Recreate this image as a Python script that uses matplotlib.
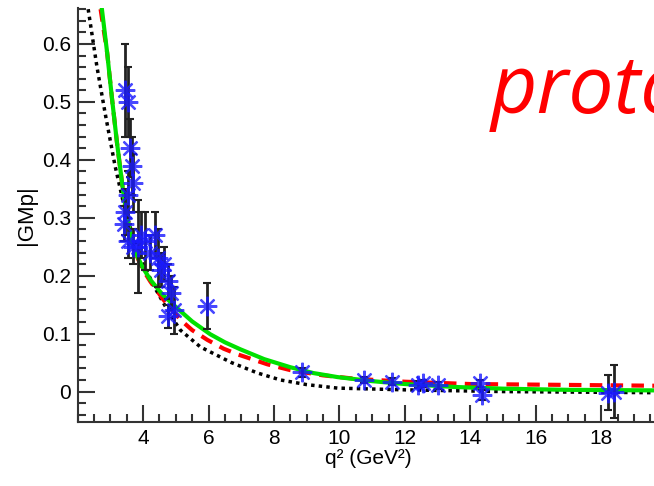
import matplotlib
matplotlib.use('Agg')
import matplotlib.pyplot as plt
from matplotlib.ticker import MultipleLocator

plt.rcParams['font.family'] = ['Liberation Sans', 'DejaVu Sans']

# Data points: q^2, |GMp|, error
q2_data = [3.45, 3.55, 3.60, 3.65, 3.70, 3.55, 3.45, 3.40, 3.55, 3.70, 3.85, 3.95,
           4.05, 4.20, 4.35, 4.45, 4.55, 4.65, 4.75, 4.85, 4.95, 4.75, 5.95,
           8.85, 10.75, 11.6, 12.4, 12.55, 13.0, 14.3, 14.35, 18.22, 18.38]
gm_data = [0.52, 0.50, 0.42, 0.39, 0.36, 0.34, 0.31, 0.29, 0.26, 0.25, 0.25, 0.27,
           0.26, 0.24, 0.27, 0.23, 0.21, 0.22, 0.19, 0.17, 0.14, 0.13, 0.148,
           0.033, 0.020, 0.017, 0.012, 0.014, 0.011, 0.014, -0.006, -0.002, 0.0]
gm_err = [0.08, 0.06, 0.05, 0.05, 0.05, 0.04, 0.04, 0.03, 0.03, 0.03, 0.08, 0.04,
          0.05, 0.03, 0.04, 0.05, 0.03, 0.03, 0.03, 0.03, 0.04, 0.02, 0.04,
          0.008, 0.006, 0.006, 0.006, 0.006, 0.006, 0.006, 0.008, 0.03, 0.046]

# Fit curves
q2_green = [2.74, 2.9, 3.05, 3.2, 3.39, 3.55, 3.69, 3.85, 4.0, 4.22, 4.6, 5.04, 5.5,
            6.05, 6.5, 6.97, 7.7, 8.5, 9.2, 9.94, 11.0, 12.0, 13.5, 15.0, 17.0, 19.8]
gm_green = [0.66, 0.585, 0.505, 0.43, 0.345, 0.29, 0.252, 0.23, 0.213, 0.193, 0.167,
            0.144, 0.121, 0.099, 0.085, 0.073, 0.056, 0.042, 0.032, 0.025, 0.018,
            0.013, 0.008, 0.005, 0.003, 0.002]

q2_red = [2.70, 2.9, 3.05, 3.2, 3.39, 3.55, 3.69, 3.85, 4.0, 4.22, 4.6, 5.14, 5.5,
          5.97, 6.46, 6.9, 7.8, 8.5, 9.5, 10.5, 12.0, 14.0, 16.0, 19.8]
gm_red = [0.66, 0.585, 0.505, 0.43, 0.345, 0.29, 0.252, 0.228, 0.21, 0.19, 0.16,
          0.124, 0.106, 0.089, 0.074, 0.064, 0.047, 0.037, 0.028, 0.022, 0.017,
          0.013, 0.012, 0.010]

q2_black = [2.32, 2.59, 2.84, 3.14, 3.4, 3.7, 4.0, 4.4, 4.8, 5.14, 5.75, 6.7, 7.5,
            8.2, 9.0, 9.94, 12.0, 15.0, 19.8]
gm_black = [0.66, 0.56, 0.48, 0.39, 0.325, 0.265, 0.22, 0.175, 0.135, 0.106, 0.077,
            0.05, 0.032, 0.02, 0.012, 0.006, 0.003, 0.0, -0.002]

fig = plt.figure(figsize=(6.54, 4.86), dpi=100)
ax = fig.add_axes([0.1188, 0.1323, 0.888, 0.8512])

ax.plot(q2_black, gm_black, color='black', linestyle=(0, (1, 1.2)), linewidth=2.5, zorder=2)
ax.plot(q2_red, gm_red, color='#ff0000', linestyle=(0, (3, 2)), linewidth=3, zorder=3)
ax.plot(q2_green, gm_green, color='#00e000', linewidth=3, zorder=4)

ax.errorbar(q2_data, gm_data, yerr=gm_err, fmt='none', ecolor='#222222',
            elinewidth=2, capsize=3, capthick=1.5, zorder=5)
ax.plot(q2_data, gm_data, linestyle='none', marker=(8, 2, 0), markersize=14,
        markeredgewidth=1.6, color='#1a1aff', alpha=0.8, zorder=6)

ax.set_xlim(2, 19.75)
ax.set_ylim(-0.052, 0.662)

ax.xaxis.set_minor_locator(MultipleLocator(0.5))
ax.yaxis.set_minor_locator(MultipleLocator(0.02))
ax.set_xticks([4, 6, 8, 10, 12, 14, 16, 18])
ax.set_yticks([0, 0.1, 0.2, 0.3, 0.4, 0.5, 0.6])
ax.set_yticklabels(['0', '0.1', '0.2', '0.3', '0.4', '0.5', '0.6'])

ax.tick_params(which='major', direction='in', length=12, width=1.5, labelsize=15, pad=5,
               color='#333333')
ax.tick_params(which='minor', direction='in', length=6, width=1.5, color='#333333')
for s in ['top', 'right']:
    ax.spines[s].set_visible(False)
for s in ['left', 'bottom']:
    ax.spines[s].set_linewidth(1.5)
    ax.spines[s].set_color('#333333')

ax.set_xlabel('q² (GeV²)', fontsize=15, labelpad=1)
ax.set_ylabel('|GMp|', fontsize=16, labelpad=3)

fig.text(0.75, 0.767, 'proton', color='#ff0000', fontsize=58, style='italic',
         family='Open Sans', ha='left', va='baseline')

fig.savefig('out.png', dpi=100)
